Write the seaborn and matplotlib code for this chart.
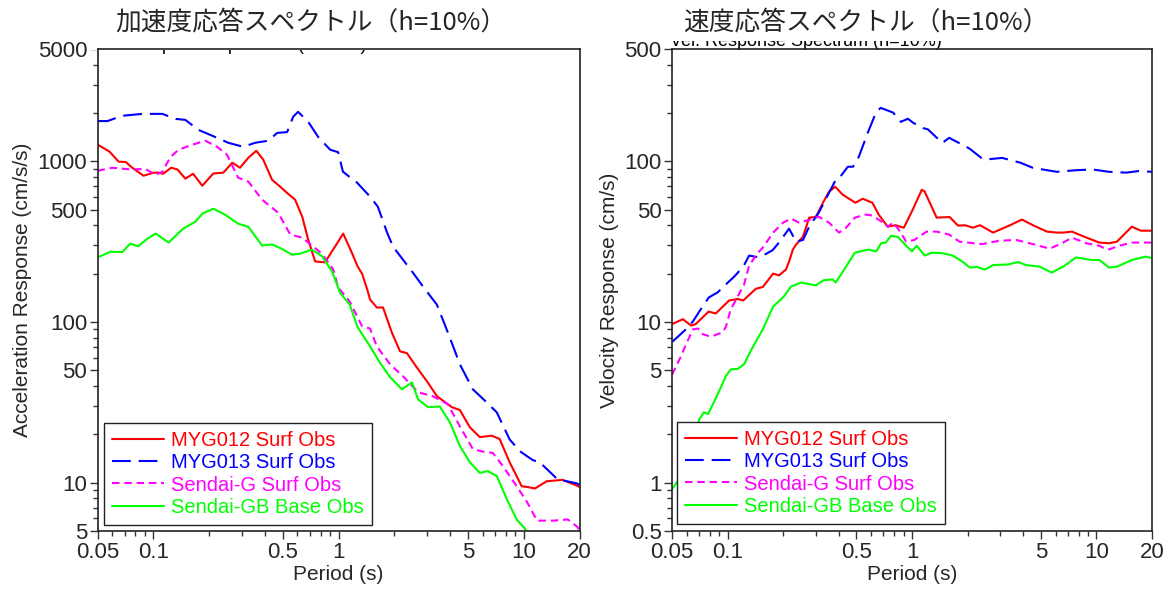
import matplotlib
matplotlib.use("Agg")
import matplotlib.pyplot as plt
import matplotlib.ticker as mticker
from matplotlib.patches import Rectangle
import seaborn as sns
import numpy as np

# ---------------- data ----------------
labels = ["MYG012 Surf Obs", "MYG013 Surf Obs", "Sendai-G Surf Obs", "Sendai-GB Base Obs"]
colors = ["#ff0000", "#0000ff", "#ff00ff", "#00ff00"]

# Acceleration response (cm/s/s)
acc_myg012_T = [0.05, 0.058, 0.065, 0.071, 0.077, 0.0886, 0.100, 0.107, 0.113, 0.125, 0.135, 0.149, 0.164, 0.184,
                0.211, 0.239, 0.267, 0.294, 0.326, 0.360, 0.392, 0.438, 0.484, 0.534, 0.583, 0.637, 0.686, 0.748,
                0.845, 0.957, 1.06, 1.18, 1.27, 1.34, 1.43, 1.48, 1.61, 1.74, 1.94, 2.15, 2.34, 2.65, 3.0, 3.4,
                4.09, 4.52, 5.12, 5.79, 6.72, 7.41, 8.39, 9.75, 10.4, 11.5, 13.3, 16.2, 19.3, 20.0]
acc_myg012 = [1270, 1150, 995, 990, 912, 813, 849, 850, 836, 912, 890, 780, 836, 705,
              840, 850, 980, 912, 1051, 1163, 1025, 767, 695, 628, 577, 452, 326, 238,
              235, 294, 355, 270, 221, 200, 159, 138, 123, 123, 86, 65.6, 64, 52, 42.8, 34.5,
              29.5, 28.3, 22.1, 19.2, 19.6, 18.7, 13.4, 9.5, 9.4, 9.2, 10.2, 10.4, 9.6, 9.4]

acc_myg013_T = [0.05, 0.0566, 0.068, 0.0873, 0.112, 0.132, 0.149, 0.175, 0.208, 0.254, 0.306, 0.355, 0.417, 0.467,
                0.528, 0.569, 0.605, 0.686, 0.776, 0.902, 0.995, 1.057, 1.26, 1.48, 1.63, 1.83, 1.97, 2.23, 2.52,
                2.86, 3.4, 3.99, 4.52, 5.31, 6.31, 7.15, 8.39, 9.51, 11.2, 12.2, 15.2, 19.3, 20.0]
acc_myg013 = [1780, 1780, 1920, 1973, 1973, 1837, 1810, 1570, 1443, 1304, 1231, 1304, 1343, 1502,
              1520, 1892, 2032, 1762, 1420, 1180, 1140, 861, 736, 603, 522, 360, 294, 244, 203,
              166, 128, 80, 54.5, 38.1, 31.6, 27.4, 18.6, 15.7, 13.8, 13.4, 10.5, 9.9, 9.7]

acc_sendaig_T = [0.05, 0.0603, 0.0707, 0.078, 0.0906, 0.103, 0.112, 0.124, 0.137, 0.162, 0.191, 0.221, 0.250, 0.287,
                 0.326, 0.387, 0.472, 0.549, 0.637, 0.720, 0.80, 0.87, 0.937, 0.995, 1.15, 1.34, 1.48, 1.61, 1.90,
                 2.23, 2.69, 3.23, 3.89, 4.52, 5.31, 6.01, 6.81, 7.71, 9.16, 10.4, 11.8, 14.4, 17.3, 19.5, 20.0]
acc_sendaig = [873, 912, 896, 890, 896, 824, 860, 1067, 1180, 1267, 1343, 1231, 1099, 791,
               747, 577, 479, 350, 335, 299, 270, 240, 212, 164, 134, 94, 91, 70.5, 54.5,
               45.9, 36.5, 34.5, 30.8, 22.4, 16.2, 15.6, 15.3, 12.7, 9.5, 7.6, 5.8, 5.8, 5.9, 5.3, 5.0]

acc_sendaigb_T = [0.05, 0.0588, 0.068, 0.075, 0.083, 0.093, 0.103, 0.121, 0.145, 0.169, 0.184, 0.211, 0.245, 0.287,
                  0.326, 0.387, 0.438, 0.495, 0.561, 0.619, 0.720, 0.816, 0.923, 1.02, 1.15, 1.27, 1.48, 1.67,
                  1.90, 2.20, 2.49, 2.69, 3.04, 3.52, 3.99, 4.52, 5.12, 5.79, 6.39, 7.15, 8.10, 9.16, 10.1, 11.0]
acc_sendaigb = [252, 274, 272, 307, 296, 330, 355, 312, 381, 421, 472, 507, 464, 409,
                391, 299, 304, 285, 262, 266, 282, 256, 206, 152, 128, 92.5, 70.5, 56,
                45.3, 38.1, 42, 33, 29.5, 29.8, 23.8, 16.9, 13.4, 11.5, 11.8, 11.0, 7.9, 5.9, 5.2, 4.5]

# Velocity response (cm/s)
vel_myg012_T = [0.05, 0.0573, 0.0634, 0.0672, 0.0789, 0.0864, 0.102, 0.1134, 0.1216, 0.1425, 0.1553, 0.1767, 0.190,
                0.2074, 0.2156, 0.226, 0.2352, 0.2566, 0.277, 0.301, 0.329, 0.355, 0.383, 0.421, 0.493, 0.541,
                0.610, 0.660, 0.738, 0.815, 0.903, 1.009, 1.13, 1.17, 1.36, 1.60, 1.775, 1.94, 2.14, 2.34, 2.75,
                3.40, 3.94, 4.53, 5.39, 6.1, 6.6, 7.36, 8.83, 10.37, 11.7, 12.9, 15.55, 17.37, 20.0]
vel_myg012 = [9.7, 10.4, 9.5, 9.7, 11.6, 11.3, 13.6, 13.9, 13.6, 16.1, 16.5, 20.0, 19.5,
              21.2, 23.8, 28.2, 30.3, 34, 44.6, 45, 55.2, 64.7, 69.5, 62, 55.2, 58.5,
              55.2, 46.6, 39.2, 40, 38.6, 50, 66.5, 65, 44.6, 45, 39.8, 40, 38.6, 40, 36,
              40, 43.4, 40, 36.5, 36, 36, 36.5, 33.5, 31.2, 30.9, 31.6, 39.2, 37, 37]

vel_myg013_T = [0.05, 0.0595, 0.065, 0.0733, 0.0791, 0.0885, 0.102, 0.108, 0.1217, 0.131, 0.1463, 0.1615, 0.1757,
                0.190, 0.2156, 0.2352, 0.2566, 0.277, 0.312, 0.355, 0.386, 0.401, 0.449, 0.479, 0.515, 0.575,
                0.640, 0.677, 0.79, 0.869, 0.95, 1.02, 1.15, 1.22, 1.46, 1.59, 1.87, 2.05, 2.40, 2.60, 3.08,
                3.87, 4.53, 6.1, 7.75, 9.5, 11.7, 14.5, 17.0, 20.0]
vel_myg013 = [7.5, 9.0, 10.1, 12.5, 14.2, 15.3, 17.9, 19, 22.1, 25.9, 25.3, 26.5, 28,
              31.2, 38.1, 31.6, 32.4, 39.2, 47.8, 63.7, 76.7, 78, 92.5, 92.5, 106.7, 150,
              203, 215, 201, 176, 184, 173, 161, 158, 130, 140, 127, 120, 104, 103, 105,
              98, 91, 86, 88, 89, 86, 85, 87, 86]

vel_sendaig_T = [0.05, 0.0559, 0.0595, 0.065, 0.0692, 0.0733, 0.0812, 0.0937, 0.0979, 0.1041, 0.1114, 0.1187,
                 0.1228, 0.131, 0.1463, 0.1553, 0.1767, 0.200, 0.2208, 0.2445, 0.273, 0.312, 0.355, 0.402, 0.439,
                 0.49, 0.56, 0.61, 0.68, 0.74, 0.79, 0.85, 0.93, 1.03, 1.20, 1.36, 1.59, 1.81, 2.0, 2.40, 2.95,
                 3.67, 4.53, 5.58, 6.6, 7.36, 8.81, 10.37, 11.5, 13.25, 15.55, 20.0]
vel_sendaig = [4.7, 6.1, 7.25, 9.0, 9.1, 8.4, 8.1, 8.6, 9.3, 12, 13.8, 15.9,
               17, 22.5, 27, 29, 36, 41.5, 44, 41.5, 43, 45.2, 41.5, 36, 38.6,
               44.6, 46.6, 46, 42.3, 39.2, 41.5, 37.4, 31.6, 32.4, 36.5, 36.5, 35, 31.6, 31.2, 30.5, 32,
               32.4, 30.5, 28.6, 31.2, 33.5, 30.9, 29.8, 28.1, 29.8, 31.2, 31.2]

vel_sendaigb_T = [0.05, 0.0578, 0.063, 0.0672, 0.0703, 0.0745, 0.0784, 0.0895, 0.0979, 0.1041, 0.1134, 0.1228,
                  0.1372, 0.1553, 0.1767, 0.200, 0.2208, 0.2505, 0.301, 0.332, 0.372, 0.386, 0.439, 0.49, 0.58,
                  0.64, 0.68, 0.72, 0.77, 0.84, 0.93, 1.0, 1.06, 1.17, 1.28, 1.46, 1.66, 1.87, 2.06, 2.25, 2.49,
                  2.75, 3.31, 3.77, 4.16, 4.92, 5.72, 6.6, 7.75, 9.4, 10.37, 11.7, 12.9, 15.55, 18.45, 20.0]
vel_sendaigb = [0.91, 1.15, 1.6, 2.0, 2.48, 2.74, 2.67, 3.65, 4.6, 5.07, 5.1, 5.45,
                7.0, 9.0, 12.5, 14.2, 16.6, 17.6, 16.9, 18.2, 18.4, 17.6, 22.1, 27, 28.2,
                27.5, 30.9, 31.2, 34.4, 33.8, 29.8, 27.5, 29.8, 25.9, 27, 26.8, 25.9, 23.8, 21.8, 22, 21.2,
                22.6, 22.8, 23.6, 22.6, 22.1, 20.3, 22.1, 25.2, 24.3, 24.3, 21.8, 22.1, 24.3, 25.5, 25]

x_ticks = [0.05, 0.1, 0.5, 1, 5, 10, 20]
x_ticklabels = ["0.05", "0.1", "0.5", "1", "5", "10", "20"]
acc_yticks = [5, 10, 50, 100, 500, 1000, 5000]
vel_yticks = [0.5, 1, 5, 10, 50, 100, 500]
vel_yticklabels = ["0.5", "1", "5", "10", "50", "100", "500"]

# ---------------- style ----------------
sns.set_style("ticks")
plt.rcParams["font.family"] = ["Liberation Sans", "DejaVu Sans"]
plt.rcParams["axes.linewidth"] = 1.2

W, H = 1172, 592
fig = plt.figure(figsize=(W / 100, H / 100), dpi=100)

ls_list = ["-", (0, (9.0, 3.8)), (0, (3.6, 2.3)), "-"]


def px(x0, y_top, w, h):
    return [x0 / W, 1 - (y_top + h) / H, w / W, h / H]


ax1 = fig.add_axes(px(97.5, 49, 482, 482))
ax2 = fig.add_axes(px(672, 49, 480, 482))


def setup(ax, ylim, yticks, yticklabels, ylabel):
    ax.set_xscale("log")
    ax.set_yscale("log")
    ax.set_xlim(0.05, 20)
    ax.set_ylim(*ylim)
    ax.xaxis.set_major_locator(mticker.FixedLocator(x_ticks))
    ax.xaxis.set_major_formatter(mticker.FixedFormatter(x_ticklabels))
    ax.xaxis.set_minor_locator(mticker.LogLocator(base=10, subs=np.arange(2, 10)))
    ax.xaxis.set_minor_formatter(mticker.NullFormatter())
    ax.yaxis.set_major_locator(mticker.FixedLocator(yticks))
    ax.yaxis.set_major_formatter(mticker.FixedFormatter(yticklabels))
    ax.yaxis.set_minor_locator(mticker.LogLocator(base=10, subs=np.arange(2, 10)))
    ax.yaxis.set_minor_formatter(mticker.NullFormatter())
    ax.tick_params(which="major", direction="out", length=6, width=1, labelsize=16, pad=1.5, color="#333333")
    ax.tick_params(which="minor", direction="out", length=3.5, width=1, color="#333333")
    ax.tick_params(axis="x", which="major", pad=2)
    for s in ax.spines.values():
        s.set_visible(True)
        s.set_color("#222222")
    ax.set_xlabel("Period (s)", fontsize=15, labelpad=1)
    ax.set_ylabel(ylabel, fontsize=15, labelpad=4)


setup(ax1, (5, 5000), acc_yticks, [str(v) for v in acc_yticks], "Acceleration Response (cm/s/s)")
setup(ax2, (0.5, 500), vel_yticks, vel_yticklabels, "Velocity Response (cm/s)")

acc_series = [(acc_myg012_T, acc_myg012), (acc_myg013_T, acc_myg013),
              (acc_sendaig_T, acc_sendaig), (acc_sendaigb_T, acc_sendaigb)]
vel_series = [(vel_myg012_T, vel_myg012), (vel_myg013_T, vel_myg013),
              (vel_sendaig_T, vel_sendaig), (vel_sendaigb_T, vel_sendaigb)]

for ax, series, anchor in [(ax1, acc_series, (104 / W, 1 - 525 / H)),
                           (ax2, vel_series, (677 / W, 1 - 524 / H))]:
    for (t, v), lab, c, ls in zip(series, labels, colors, ls_list):
        sns.lineplot(x=t, y=v, ax=ax, color=c, linewidth=1.5, linestyle=ls,
                     estimator=None, sort=False, label=lab)
    handles = ax.get_lines()[-4:]
    leg = ax.legend(handles=handles, labels=labels, loc="lower left",
                    bbox_to_anchor=anchor, bbox_transform=fig.transFigure,
                    fontsize=14.5, frameon=True, fancybox=False, framealpha=1,
                    edgecolor="#222222", borderaxespad=0, borderpad=0.4,
                    labelspacing=0.17, handlelength=2.6, handletextpad=0.35)
    leg.get_frame().set_linewidth(1.0)
    for txt, c in zip(leg.get_texts(), colors):
        txt.set_color(c)

# partially hidden subtitles, covered by the title areas (drawn below the spines)
ax1.text(90 / W, 1 - 50 / H, "Acc. Response Spectrum (h=10%)", fontsize=13,
         ha="left", va="baseline", color="black", zorder=1,
         transform=fig.transFigure, clip_on=False)
ax2.text(670 / W, 1 - 46 / H, "Vel. Response Spectrum (h=10%)", fontsize=13,
         ha="left", va="baseline", color="black", zorder=1,
         transform=fig.transFigure, clip_on=False)
ax1.add_patch(Rectangle((88 / W, 1 - 49.5 / H), 420 / W, 49.5 / H, transform=fig.transFigure,
                        facecolor="white", edgecolor="none", zorder=1.5, clip_on=False))
ax2.add_patch(Rectangle((665 / W, 1 - 41 / H), 380 / W, 41 / H, transform=fig.transFigure,
                        facecolor="white", edgecolor="none", zorder=1.5, clip_on=False))

cjk = ["Noto Sans CJK JP", "DejaVu Sans"]
fig.text(115 / W, 1 - 23 / H, "加速度応答スペクトル（h=10%）", fontsize=18.5, family=cjk,
         ha="left", va="center", zorder=3)
fig.text(683 / W, 1 - 23 / H, "速度応答スペクトル（h=10%）", fontsize=18.5, family=cjk,
         ha="left", va="center", zorder=3)

fig.savefig("out.png", dpi=100)
